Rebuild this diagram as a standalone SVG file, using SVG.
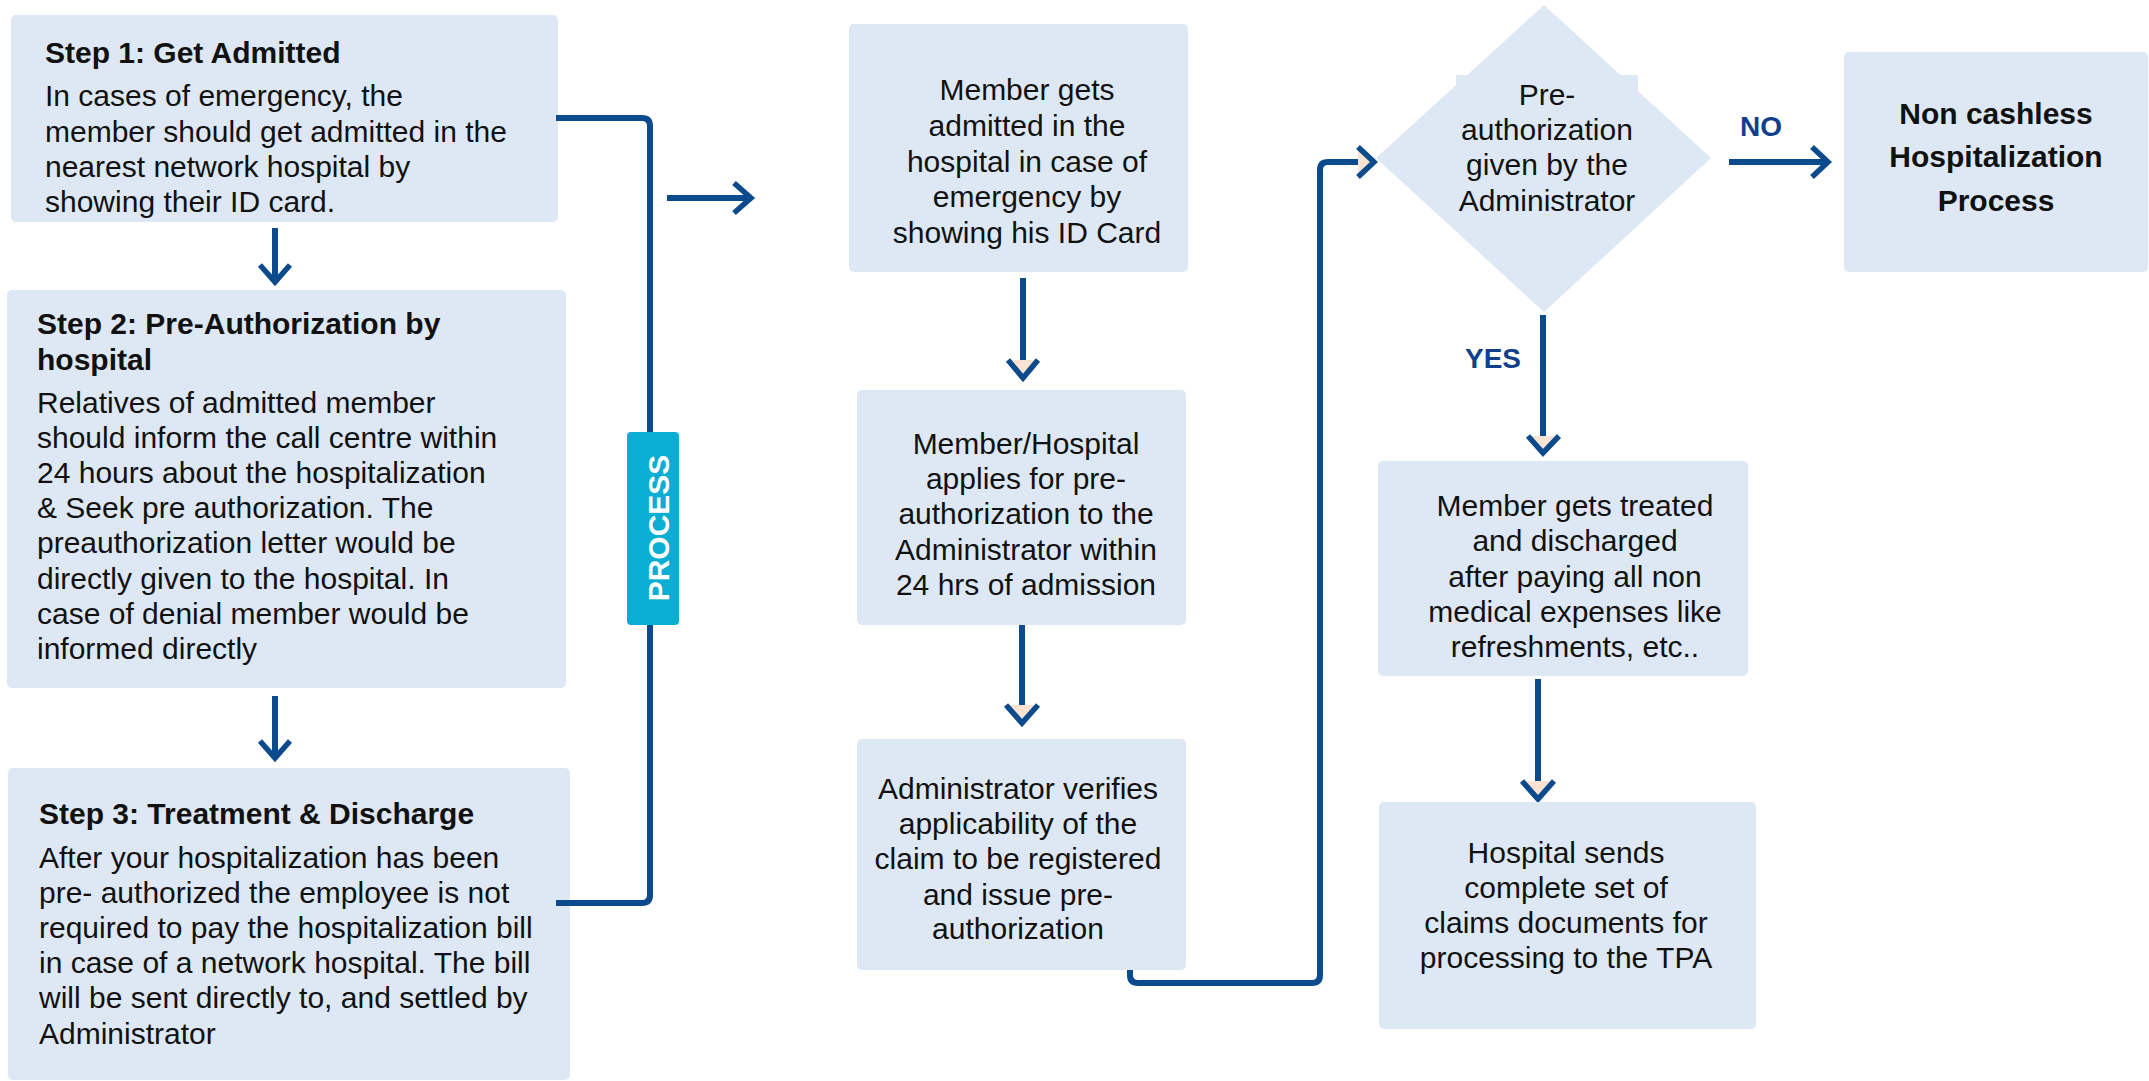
<svg xmlns="http://www.w3.org/2000/svg" width="2149" height="1081" viewBox="0 0 2149 1081">
<style>
.box{fill:#DDE8F4}
.t{font-family:'Liberation Sans',Arial,sans-serif;font-size:30px;fill:#111}
.b{font-weight:bold}
.c{text-anchor:middle}
.ln{fill:none;stroke:#0B4A8C;stroke-width:6}
.hd{fill:none;stroke:#0B4A8C;stroke-width:5.5}
.pe{fill:#FBE3D3}
.lab{font-family:'Liberation Sans',Arial,sans-serif;font-size:28px;font-weight:bold;fill:#123F8C}
</style>
<rect width="2149" height="1081" fill="#FFFFFF"/>
<g id="step1">
<rect class="box" x="11" y="15" width="547" height="207" rx="5"/>
<text class="t" x="45" y="63"><tspan class="b">Step 1: Get Admitted</tspan><tspan x="45" y="106">In cases of emergency, the</tspan><tspan x="45" y="141.5">member should get admitted in the</tspan><tspan x="45" y="177">nearest network hospital by</tspan><tspan x="45" y="212">showing their ID card.</tspan></text>
</g>
<g id="step2">
<rect class="box" x="7" y="290" width="559" height="398" rx="5"/>
<text class="t" x="37" y="334"><tspan class="b">Step 2: Pre-Authorization by</tspan><tspan class="b" x="37" y="370">hospital</tspan><tspan x="37" y="413">Relatives of admitted member</tspan><tspan x="37" y="448">should inform the call centre within</tspan><tspan x="37" y="483">24 hours about the hospitalization</tspan><tspan x="37" y="518">&amp; Seek pre authorization. The</tspan><tspan x="37" y="553">preauthorization letter would be</tspan><tspan x="37" y="589">directly given to the hospital. In</tspan><tspan x="37" y="624">case of denial member would be</tspan><tspan x="37" y="659">informed directly</tspan></text>
</g>
<g id="step3">
<rect class="box" x="8" y="768" width="562" height="312" rx="5"/>
<text class="t" x="39" y="824"><tspan class="b">Step 3: Treatment &amp; Discharge</tspan><tspan x="39" y="868">After your hospitalization has been</tspan><tspan x="39" y="903">pre- authorized the employee is not</tspan><tspan x="39" y="938">required to pay the hospitalization bill</tspan><tspan x="39" y="973">in case of a network hospital. The bill</tspan><tspan x="39" y="1008">will be sent directly to, and settled by</tspan><tspan x="39" y="1044">Administrator</tspan></text>
</g>
<g id="connectors">
<path class="ln" d="M556,118 H642 Q650,118 650,126 V895 Q650,903 642,903 H556"/>
<path class="ln" d="M275,228 V280"/>
<path class="hd" d="M260,265 L275,282 L290,265"/>
<path class="ln" d="M275,696 V756"/>
<path class="hd" d="M260,741 L275,758 L290,741"/>
<path class="ln" d="M667,198 H749"/>
<path class="hd" d="M734,183 L751,198 L734,213"/>
<path class="pe" d="M1008,360 L1038,360 L1023,376 Z"/>
<path class="ln" d="M1023,278 V360"/>
<path class="hd" d="M1008,360 L1023,378 L1038,360"/>
<path class="pe" d="M1006,705 L1038,705 L1022,721 Z"/>
<path class="ln" d="M1022,625 V705"/>
<path class="hd" d="M1006,705 L1022,723 L1038,705"/>
<path class="ln" d="M1130,960 V975 Q1130,983 1138,983 H1312 Q1320,983 1320,975 V170 Q1320,162 1328,162 H1358"/>
<path class="pe" d="M1358,147 L1358,177 L1372,162 Z"/>
<path class="hd" d="M1358,147 L1374,162 L1358,177"/>
<path class="ln" d="M1729,162 H1826"/>
<path class="hd" d="M1812,147 L1828,162 L1812,177"/>
<path class="ln" d="M1543,315 V436"/>
<path class="pe" d="M1528,436 L1559,436 L1543,451 Z"/>
<path class="hd" d="M1528,436 L1543,453 L1559,436"/>
<path class="ln" d="M1538,679 V781"/>
<path class="pe" d="M1522,781 L1554,781 L1538,797 Z"/>
<path class="hd" d="M1522,781 L1538,799 L1554,781"/>
<text class="lab c" x="1761" y="136">NO</text>
<text class="lab c" x="1493" y="368">YES</text>
</g>
<g id="process-tag">
<rect x="627" y="432" width="52" height="193" rx="4" fill="#0AAED3"/>
<text class="t b c" transform="translate(669,528) rotate(-90)" fill="#FFFFFF" style="fill:#FFFFFF">PROCESS</text>
</g>
<g id="admit">
<rect class="box" x="849" y="24" width="339" height="248" rx="5"/>
<text class="t c" x="1027" y="100">Member gets<tspan x="1027" y="136">admitted in the</tspan><tspan x="1027" y="172">hospital in case of</tspan><tspan x="1027" y="207">emergency by</tspan><tspan x="1027" y="243">showing his ID Card</tspan></text>
</g>
<g id="apply">
<rect class="box" x="857" y="390" width="329" height="235" rx="5"/>
<text class="t c" x="1026" y="454">Member/Hospital<tspan x="1026" y="489">applies for pre-</tspan><tspan x="1026" y="524">authorization to the</tspan><tspan x="1026" y="560">Administrator within</tspan><tspan x="1026" y="595">24 hrs of admission</tspan></text>
</g>
<g id="verify">
<rect class="box" x="857" y="739" width="329" height="231" rx="5"/>
<text class="t c" x="1018" y="799">Administrator verifies<tspan x="1018" y="834">applicability of the</tspan><tspan x="1018" y="869">claim to be registered</tspan><tspan x="1018" y="905">and issue pre-</tspan><tspan x="1018" y="939">authorization</tspan></text>
</g>
<g id="decision">
<polygon class="box" points="1544,5 1711,158 1544,312 1376,158"/>
<rect class="box" x="1456" y="75" width="182" height="150"/>
<text class="t c" x="1547" y="105">Pre-<tspan x="1547" y="140">authorization</tspan><tspan x="1547" y="175">given by the</tspan><tspan x="1547" y="211">Administrator</tspan></text>
</g>
<g id="noncashless">
<rect class="box" x="1844" y="52" width="304" height="220" rx="5"/>
<text class="t b c" x="1996" y="124">Non cashless<tspan x="1996" y="167">Hospitalization</tspan><tspan x="1996" y="211">Process</tspan></text>
</g>
<g id="treated">
<rect class="box" x="1378" y="461" width="370" height="215" rx="5"/>
<text class="t c" x="1575" y="516">Member gets treated<tspan x="1575" y="551">and discharged</tspan><tspan x="1575" y="587">after paying all non</tspan><tspan x="1575" y="622">medical expenses like</tspan><tspan x="1575" y="657">refreshments, etc..</tspan></text>
</g>
<g id="sends">
<rect class="box" x="1379" y="802" width="377" height="227" rx="5"/>
<text class="t c" x="1566" y="863">Hospital sends<tspan x="1566" y="898">complete set of</tspan><tspan x="1566" y="933">claims documents for</tspan><tspan x="1566" y="968">processing to the TPA</tspan></text>
</g>
</svg>
